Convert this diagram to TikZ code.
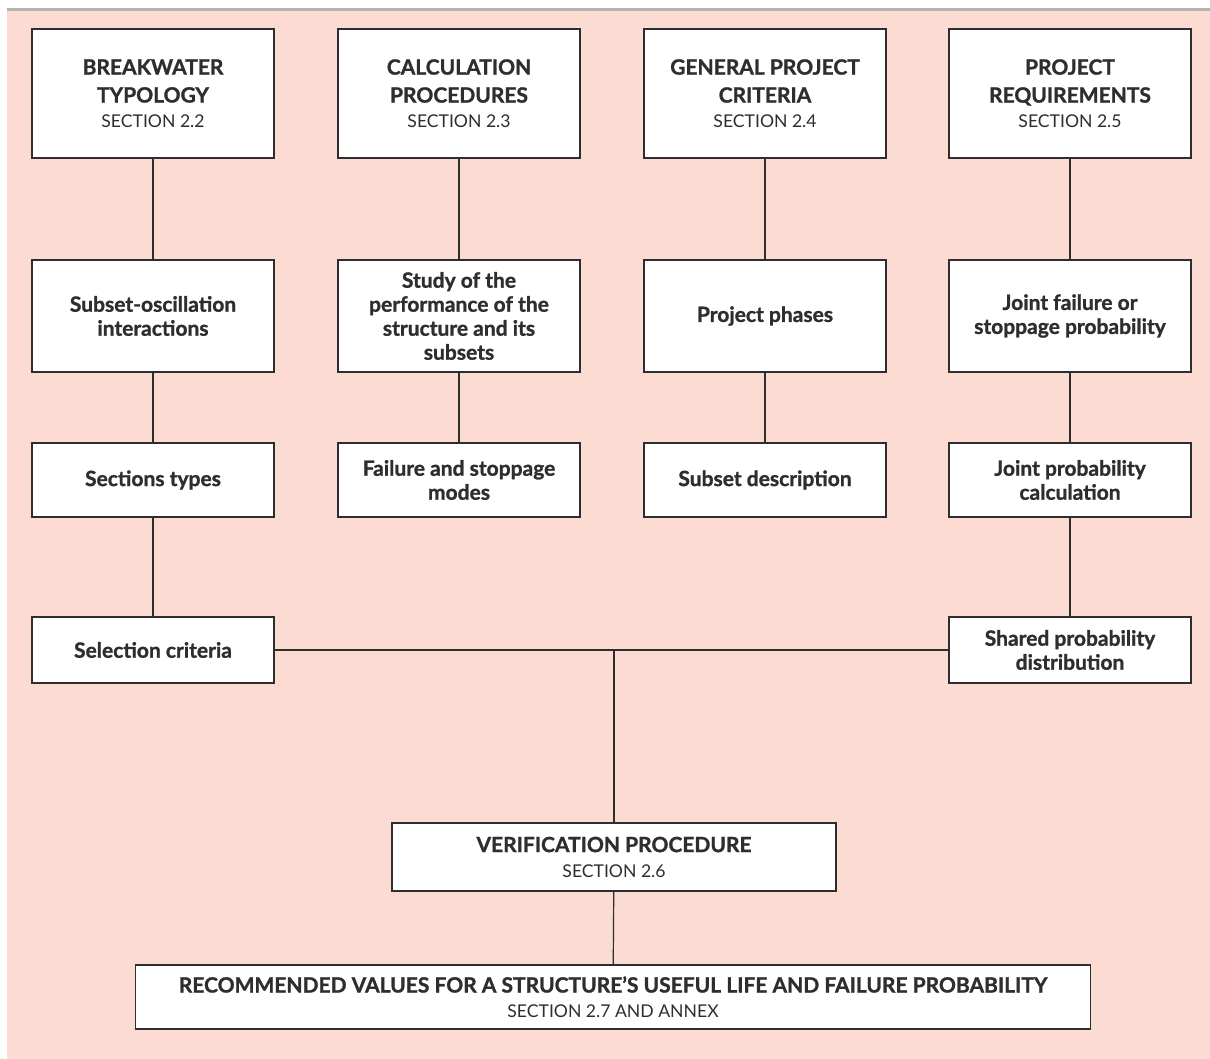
\documentclass[tikz,border=0pt]{standalone}
\usepackage{fontspec}
\setmainfont{Lato}[BoldFeatures={FakeBold=1.2}]
\definecolor{bgpink}{HTML}{FCDCD2}
\definecolor{rulegray}{HTML}{B4B4B4}
\definecolor{edge}{HTML}{2E2E2E}
\newcommand{\secline}[1]{\\[-1.5pt]{\fontsize{8.8}{11}\selectfont\mdseries #1}}
\begin{document}
\begin{tikzpicture}[x=0.5pt,y=-0.5pt,
  box/.style={draw=edge, fill=white, line width=0.7pt, minimum width=121pt,
    align=center, inner sep=0pt, text=edge,
    font=\fontsize{10.5}{12}\selectfont\bfseries},
  titled/.style={box, font=\fontsize{10.5}{14}\selectfont\bfseries},
  head/.style={titled, minimum height=64.5pt},
  mid/.style={box, minimum height=56pt},
  low/.style={box, minimum height=37pt},
  base/.style={box, minimum height=33pt},
  link/.style={draw=edge, line width=0.6pt}]
  \useasboundingbox (0,0) rectangle (1210,1059);
  % background
  \fill[bgpink] (7,11) rectangle (1210,1059);
  \draw[rulegray, line width=1.5pt] (7,9.5) -- (1210,9.5);

  % top row
  \node[head] (typo) at (153,93.5) {BREAKWATER\\TYPOLOGY\secline{SECTION 2.2}};
  \node[head] (calc) at (459,93.5) {CALCULATION\\PROCEDURES\secline{SECTION 2.3}};
  \node[head] (gen) at (765,93.5) {GENERAL PROJECT\\CRITERIA\secline{SECTION 2.4}};
  \node[head] (req) at (1070,93.5) {PROJECT\\REQUIREMENTS\secline{SECTION 2.5}};

  % second row
  \node[mid] (osc) at (153,316) {Subset-oscillation\\interactions};
  \node[mid] (study) at (459,316) {Study of the\\performance of the\\structure and its\\subsets};
  \node[mid] (phases) at (765,316) {Project phases};
  \node[mid] (joint) at (1070,316) {Joint failure or\\stoppage probability};

  % third row
  \node[low] (types) at (153,480) {Sections types};
  \node[low] (modes) at (459,480) {Failure and stoppage\\modes};
  \node[low] (desc) at (765,480) {Subset description};
  \node[low] (jcalc) at (1070,480) {Joint probability\\calculation};

  % fourth row
  \node[base] (select) at (153,650) {Selection criteria};
  \node[base] (shared) at (1070,650) {Shared probability\\distribution};

  % bottom
  \node[titled, minimum width=222pt, minimum height=34pt] (verif) at (614,857)
    {VERIFICATION PROCEDURE\secline{SECTION 2.6}};
  \node[titled, minimum width=477.5pt, minimum height=32pt] (recom) at (613,997)
    {RECOMMENDED VALUES FOR A STRUCTURE’S USEFUL LIFE AND FAILURE PROBABILITY\secline{SECTION 2.7 AND ANNEX}};

  % connectors
  \draw[link] (typo) -- (osc) -- (types) -- (select);
  \draw[link] (calc) -- (study) -- (modes);
  \draw[link] (gen) -- (phases) -- (desc);
  \draw[link] (req) -- (joint) -- (jcalc) -- (shared);
  \draw[link] (select) -- (shared);
  \coordinate (hub) at (verif.north |- select.east);
  \draw[link] (hub) -- (verif);
  \draw[link] (verif) -- (recom);
\end{tikzpicture}
\end{document}
